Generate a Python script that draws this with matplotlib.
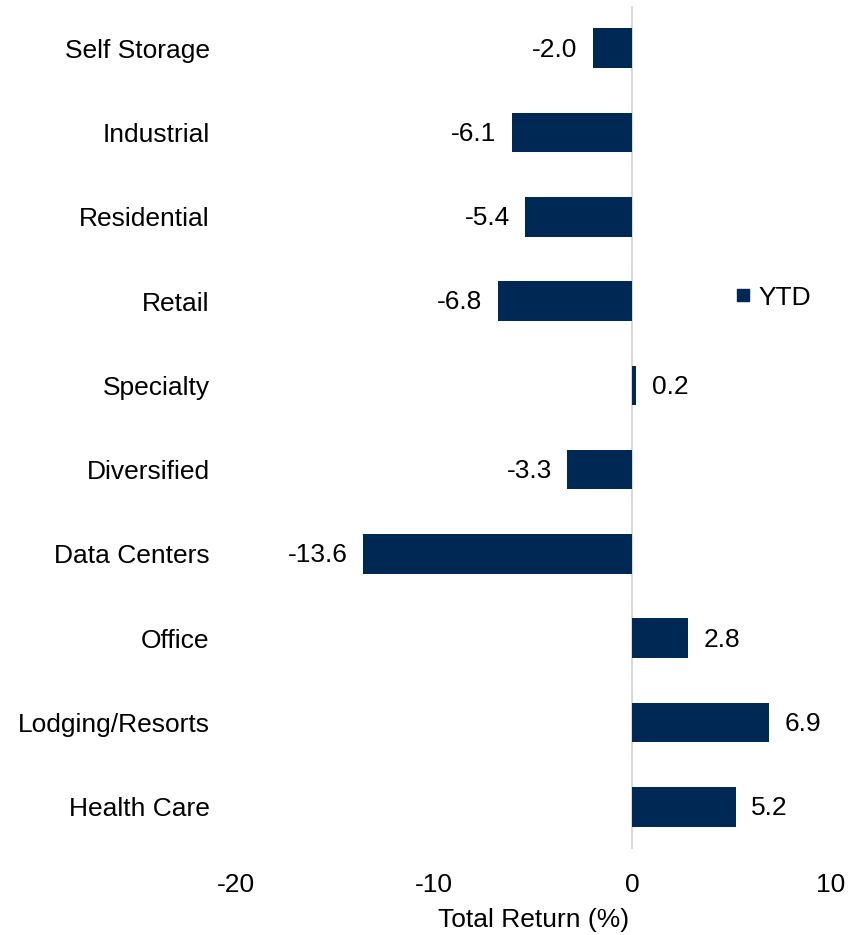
import matplotlib.pyplot as plt
from matplotlib.lines import Line2D

plt.rcParams['font.family'] = ['Liberation Sans', 'DejaVu Sans']

categories = ['Self Storage', 'Industrial', 'Residential', 'Retail', 'Specialty',
              'Diversified', 'Data Centers', 'Office', 'Lodging/Resorts', 'Health Care']
ytd = [-2.0, -6.1, -5.4, -6.8, 0.2, -3.3, -13.6, 2.8, 6.9, 5.2]
xticks = [-20, -10, 0, 10]

navy = '#002855'
fs = 19

fig = plt.figure(figsize=(8.52, 9.35), dpi=100)
ax = fig.add_axes([0.277, 0.092, 0.698, 0.9016])

ypos = list(range(len(categories)))[::-1]
ax.barh(ypos, ytd, height=0.47, color=navy, zorder=2)
ax.axvline(0, color='#d9d9d9', lw=1.5, zorder=1)

for y, v in zip(ypos, ytd):
    if v < 0:
        ax.annotate(f'{v:.1f}', (v, y), xytext=(-11, -1), textcoords='offset points',
                    ha='right', va='center', fontsize=fs)
    else:
        ax.annotate(f'{v:.1f}', (v, y), xytext=(11, -1), textcoords='offset points',
                    ha='left', va='center', fontsize=fs)

ax.set_xlim(-20, 10)
ax.set_ylim(-0.5, len(categories) - 0.5)
ax.set_xticks(xticks)
ax.set_xticklabels([str(t) for t in xticks], fontsize=fs)
ax.set_yticks(ypos)
ax.set_yticklabels(categories, fontsize=fs)
ax.tick_params(axis='both', length=0)
ax.tick_params(axis='x', pad=17)
ax.tick_params(axis='y', pad=19)
for s in ax.spines.values():
    s.set_visible(False)
ax.set_xlabel('Total Return (%)', fontsize=fs, labelpad=8)

handle = Line2D([], [], marker='s', color=navy, linestyle='none', markersize=9)
ax.legend([handle], ['YTD'], loc='center left', bbox_to_anchor=(0.79, 0.654),
          frameon=False, fontsize=fs, handletextpad=0.1, handlelength=1.0)

fig.savefig('out.png', dpi=100)
